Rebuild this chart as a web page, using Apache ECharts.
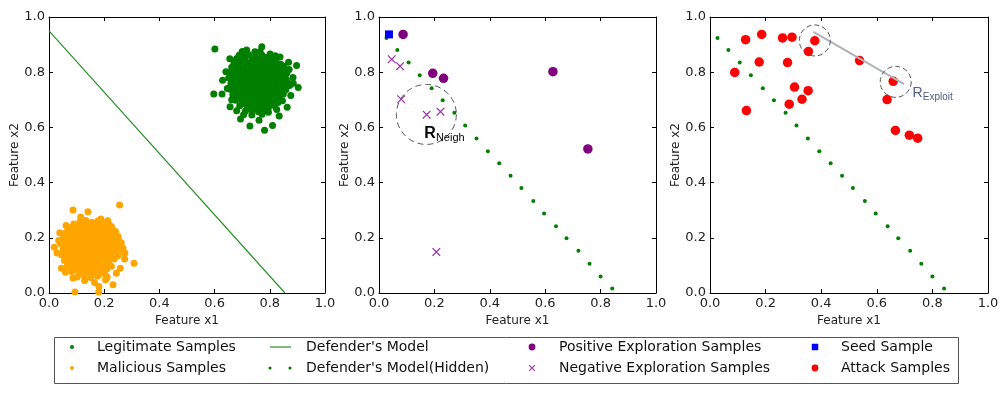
<!DOCTYPE html>
<html>
<head>
<meta charset="utf-8">
<script src="https://cdn.jsdelivr.net/npm/echarts@6/dist/echarts.min.js"></script>
<style>html,body{margin:0;padding:0;background:#fff;}#chart{width:1008px;height:394px;}</style>
</head>
<body>
<div id="chart"></div>
<script>
// ---------------- DATA ----------------
const axisTicks = [0.0, 0.2, 0.4, 0.6, 0.8, 1.0];
const xAxisTitle = 'Feature x1';
const yAxisTitle = 'Feature x2';

// Panel 1
const legitPoints = [
  [0.601,0.884],[0.597,0.721],[0.771,0.892],[0.903,0.745],[0.781,0.590],[0.810,0.607],[0.694,0.630],[0.863,0.673],[0.897,0.824],[0.629,0.771],
  [0.656,0.675],[0.728,0.605],[0.855,0.807],[0.837,0.855],[0.801,0.866],[0.655,0.849],[0.716,0.880],[0.884,0.781],[0.641,0.802],[0.646,0.741],
  [0.876,0.716],[0.746,0.874],[0.761,0.626],[0.834,0.641],[0.868,0.836],[0.689,0.861],[0.627,0.721],[0.705,0.646],[0.872,0.752],[0.662,0.700],
  [0.702,0.858],[0.723,0.864],[0.748,0.856],[0.772,0.861],[0.791,0.853],
  [0.671,0.838],[0.692,0.843],[0.714,0.836],[0.737,0.845],[0.759,0.839],[0.781,0.844],[0.803,0.836],[0.822,0.842],
  [0.662,0.818],[0.681,0.823],[0.703,0.816],[0.726,0.824],[0.744,0.817],[0.766,0.822],[0.787,0.815],[0.806,0.823],[0.829,0.818],[0.851,0.822],
  [0.655,0.798],[0.676,0.803],[0.696,0.796],[0.717,0.802],[0.741,0.797],[0.762,0.804],[0.779,0.798],[0.801,0.801],[0.821,0.795],[0.842,0.803],[0.862,0.797],
  [0.651,0.779],[0.671,0.783],[0.691,0.776],[0.712,0.782],[0.731,0.777],[0.754,0.783],[0.776,0.778],[0.796,0.784],[0.816,0.776],[0.836,0.781],[0.857,0.778],
  [0.659,0.758],[0.682,0.763],[0.701,0.757],[0.722,0.762],[0.744,0.756],[0.766,0.761],[0.786,0.758],[0.806,0.763],[0.826,0.756],[0.846,0.762],[0.869,0.759],
  [0.656,0.738],[0.676,0.742],[0.697,0.737],[0.716,0.743],[0.736,0.736],[0.757,0.741],[0.779,0.738],[0.799,0.744],[0.819,0.737],[0.841,0.742],[0.858,0.736],
  [0.666,0.718],[0.686,0.723],[0.706,0.716],[0.726,0.722],[0.749,0.717],[0.771,0.721],[0.791,0.716],[0.811,0.723],[0.831,0.718],[0.849,0.721],
  [0.676,0.698],[0.699,0.703],[0.721,0.697],[0.741,0.702],[0.762,0.696],[0.781,0.703],[0.801,0.698],[0.824,0.702],[0.846,0.697],
  [0.691,0.678],[0.714,0.683],[0.736,0.677],[0.756,0.682],[0.776,0.676],[0.796,0.683],[0.816,0.679],
  [0.712,0.659],[0.736,0.663],[0.759,0.657],[0.784,0.662],
  [0.735,0.645],[0.772,0.648],[0.795,0.655],[0.825,0.665],[0.680,0.660],[0.700,0.875],[0.765,0.875],[0.820,0.860],[0.870,0.810],[0.885,0.760],
  [0.680,0.850],[0.710,0.847],[0.735,0.852],[0.760,0.848],[0.785,0.851],[0.810,0.847],
  [0.670,0.830],[0.690,0.832],[0.715,0.828],[0.735,0.831],[0.755,0.829],[0.775,0.832],[0.795,0.828],[0.815,0.831],[0.840,0.829],
  [0.665,0.810],[0.685,0.812],[0.705,0.808],[0.730,0.811],[0.750,0.809],[0.770,0.812],[0.790,0.808],[0.810,0.811],[0.830,0.809],[0.850,0.812],
  [0.660,0.790],[0.680,0.792],[0.700,0.788],[0.725,0.791],[0.745,0.789],[0.765,0.792],[0.785,0.788],[0.805,0.791],[0.825,0.789],[0.850,0.792],
  [0.665,0.770],[0.690,0.772],[0.710,0.768],[0.735,0.771],[0.755,0.769],[0.775,0.772],[0.795,0.768],[0.815,0.771],[0.835,0.769],[0.860,0.772],
  [0.670,0.750],[0.690,0.752],[0.710,0.748],[0.730,0.751],[0.755,0.749],[0.775,0.752],[0.795,0.748],[0.815,0.751],[0.835,0.749],[0.855,0.752],
  [0.675,0.730],[0.695,0.732],[0.715,0.728],[0.735,0.731],[0.760,0.729],[0.780,0.732],[0.800,0.728],[0.820,0.731],[0.840,0.729],
  [0.685,0.710],[0.710,0.712],[0.730,0.708],[0.750,0.711],[0.770,0.709],[0.790,0.712],[0.810,0.708],[0.835,0.711],
  [0.700,0.690],[0.725,0.692],[0.745,0.688],[0.765,0.691],[0.785,0.689],[0.805,0.692],[0.830,0.690],
  [0.720,0.670],[0.745,0.672],[0.770,0.668],[0.795,0.671]
];
const maliciousPoints = [
  [0.256,0.319],[0.087,0.301],[0.141,0.294],[0.308,0.108],[0.019,0.166],[0.094,0.004],[0.180,0.004],[0.181,0.024],[0.232,0.030],[0.274,0.123],
  [0.268,0.163],[0.039,0.218],[0.029,0.145],[0.045,0.090],[0.087,0.054],[0.129,0.045],[0.188,0.268],[0.220,0.241],[0.250,0.205],[0.244,0.072],
  [0.062,0.245],[0.115,0.275],[0.213,0.262],[0.262,0.182],[0.275,0.145],[0.060,0.075],[0.165,0.038],[0.205,0.048],[0.035,0.190],[0.258,0.090],
  [0.112,0.258],[0.133,0.263],[0.156,0.256],[0.178,0.262],[0.199,0.255],
  [0.082,0.238],[0.101,0.243],[0.122,0.236],[0.141,0.242],[0.164,0.237],[0.186,0.243],[0.205,0.236],[0.226,0.241],
  [0.061,0.218],[0.081,0.223],[0.102,0.216],[0.121,0.222],[0.141,0.217],[0.162,0.223],[0.181,0.216],[0.201,0.221],[0.222,0.217],[0.241,0.223],
  [0.052,0.198],[0.071,0.203],[0.092,0.196],[0.111,0.202],[0.131,0.197],[0.151,0.203],[0.172,0.196],[0.191,0.202],[0.211,0.197],[0.232,0.203],[0.251,0.196],
  [0.042,0.178],[0.061,0.183],[0.082,0.176],[0.101,0.182],[0.121,0.177],[0.146,0.183],[0.166,0.176],[0.186,0.182],[0.206,0.177],[0.226,0.183],[0.246,0.176],
  [0.051,0.158],[0.071,0.163],[0.091,0.156],[0.111,0.162],[0.131,0.157],[0.151,0.163],[0.171,0.156],[0.191,0.162],[0.211,0.157],[0.231,0.163],[0.259,0.158],
  [0.046,0.138],[0.066,0.143],[0.086,0.136],[0.106,0.142],[0.126,0.137],[0.146,0.143],[0.166,0.136],[0.186,0.142],[0.206,0.137],[0.226,0.143],[0.251,0.136],
  [0.056,0.118],[0.076,0.123],[0.096,0.116],[0.116,0.122],[0.136,0.117],[0.156,0.123],[0.176,0.116],[0.196,0.122],[0.216,0.117],[0.236,0.123],
  [0.066,0.098],[0.086,0.103],[0.106,0.096],[0.126,0.102],[0.146,0.097],[0.166,0.103],[0.186,0.096],[0.206,0.102],[0.226,0.097],
  [0.081,0.078],[0.101,0.083],[0.121,0.076],[0.141,0.082],[0.161,0.077],[0.181,0.083],[0.201,0.076],
  [0.102,0.058],[0.126,0.063],[0.151,0.056],[0.176,0.062],[0.211,0.058],
  [0.090,0.250],[0.120,0.252],[0.145,0.248],[0.170,0.251],[0.190,0.249],[0.215,0.252],
  [0.070,0.230],[0.090,0.232],[0.110,0.228],[0.130,0.231],[0.150,0.229],[0.170,0.232],[0.190,0.228],[0.210,0.231],[0.230,0.229],
  [0.060,0.210],[0.080,0.212],[0.100,0.208],[0.120,0.211],[0.140,0.209],[0.160,0.212],[0.180,0.208],[0.200,0.211],[0.220,0.209],[0.240,0.212],
  [0.050,0.190],[0.070,0.192],[0.090,0.188],[0.110,0.191],[0.130,0.189],[0.155,0.192],[0.175,0.188],[0.195,0.191],[0.215,0.189],[0.235,0.192],
  [0.055,0.170],[0.075,0.172],[0.095,0.168],[0.115,0.171],[0.135,0.169],[0.155,0.172],[0.180,0.168],[0.200,0.171],[0.220,0.169],[0.240,0.172],
  [0.060,0.150],[0.080,0.152],[0.100,0.148],[0.120,0.151],[0.140,0.149],[0.160,0.152],[0.180,0.148],[0.200,0.151],[0.220,0.149],[0.240,0.152],
  [0.065,0.130],[0.085,0.132],[0.105,0.128],[0.125,0.131],[0.145,0.129],[0.165,0.132],[0.185,0.128],[0.205,0.131],[0.225,0.129],
  [0.075,0.110],[0.095,0.112],[0.115,0.108],[0.135,0.111],[0.155,0.109],[0.175,0.112],[0.195,0.108],[0.215,0.111],
  [0.090,0.090],[0.110,0.092],[0.130,0.088],[0.150,0.091],[0.170,0.089],[0.190,0.092],[0.210,0.088],
  [0.110,0.070],[0.140,0.072],[0.165,0.068],[0.190,0.071]
];
const defenderLine = [[0.0, 0.95], [0.855, 0.0]];

// Panels 2 & 3: hidden model
const hiddenX = [0.027,0.066,0.107,0.147,0.190,0.230,0.272,0.311,0.352,0.393,0.434,0.475,0.514,0.557,0.596,0.639,0.677,0.720,0.760,0.800,0.842];
const hiddenY = [0.924,0.880,0.835,0.789,0.742,0.698,0.653,0.607,0.560,0.514,0.470,0.425,0.380,0.333,0.288,0.242,0.198,0.153,0.106,0.060,0.016];

// Panel 2
const seedPoint = [[0.036, 0.937]];
const positivePoints = [[0.087,0.937],[0.194,0.796],[0.233,0.778],[0.628,0.802],[0.754,0.522]];
const negativePoints = [[0.046,0.847],[0.076,0.822],[0.080,0.702],[0.172,0.646],[0.222,0.657],[0.207,0.149]];
const neighCircle = [[0.171, 0.647]];
const neighLabelAt = [[0.162, 0.572]];

// Panel 3
const attackPoints = [
  [0.128,0.918],[0.186,0.937],[0.261,0.924],[0.295,0.927],[0.377,0.914],[0.354,0.875],[0.089,0.799],[0.177,0.837],
  [0.279,0.835],[0.538,0.842],[0.659,0.767],[0.304,0.746],[0.353,0.733],[0.331,0.702],[0.285,0.684],[0.131,0.661],
  [0.637,0.701],[0.667,0.589],[0.717,0.572],[0.747,0.561]
];
const exploitLine = [[0.372, 0.946], [0.698, 0.757]];
const exploitCircles = [[0.377, 0.915], [0.668, 0.765]];
const exploitLabelAt = [[0.727, 0.717]];

const legendCol1 = ['Legitimate Samples', 'Malicious Samples'];
const legendCol2 = ["Defender's Model", "Defender's Model(Hidden)"];
const legendCol3 = ['Positive Exploration Samples', 'Negative Exploration Samples'];
const legendCol4 = ['Seed Sample', 'Attack Samples'];

// ---------------- STYLE ----------------
const GREEN = '#007f00', ORANGE = '#ffa500', PURPLE = '#800080', XPURPLE = '#9b2fae', RED = '#ff0000', BLUE = '#0000ff';
const FONT = 'DejaVu Sans';
const grids = [
  { left: 49, top: 17, width: 276, height: 276 },
  { left: 379, top: 17, width: 277, height: 276 },
  { left: 710, top: 17, width: 278, height: 276 }
];

function xPath(cx, cy, s, t) {
  const h = s / 2, d = t / Math.SQRT2;
  const pts = [[-h,-h+d],[-h+d,-h],[0,-d],[h-d,-h],[h,-h+d],[d,0],[h,h-d],[h-d,h],[0,d],[-h+d,h],[-h,h-d],[-d,0]];
  return 'M' + pts.map(p => (cx + p[0]).toFixed(2) + ',' + (cy + p[1]).toFixed(2)).join(' L') + ' Z';
}
function circ(cx, cy, r) {
  return 'M' + (cx - r) + ',' + cy + ' A' + r + ',' + r + ' 0 1,0 ' + (cx + r) + ',' + cy + ' A' + r + ',' + r + ' 0 1,0 ' + (cx - r) + ',' + cy + ' Z';
}
const PAD = 'path://M0,0 M40,14 ';
const icons = {
  'Legitimate Samples': PAD + circ(20, 7, 2),
  'Malicious Samples': PAD + circ(20, 7, 2),
  "Defender's Model": PAD + 'M9,6.4 L30,6.4 L30,7.6 L9,7.6 Z',
  "Defender's Model(Hidden)": PAD + circ(9, 7, 1.6) + ' ' + circ(29, 7, 1.6),
  'Positive Exploration Samples': PAD + circ(18, 7, 3.4),
  'Negative Exploration Samples': PAD + xPath(18, 7, 6.5, 1.1),
  'Seed Sample': PAD + 'M15.75,3.75 L22.25,3.75 L22.25,10.25 L15.75,10.25 Z',
  'Attack Samples': PAD + circ(19, 7, 3.4)
};

const xAxes = [], yAxes = [];
grids.forEach((g, i) => {
  const common = {
    type: 'value', min: 0, max: 1, interval: 0.2, gridIndex: i,
    axisLine: { show: true, onZero: false, lineStyle: { color: '#000', width: 1 } },
    axisTick: { show: true, inside: true, length: 4, lineStyle: { color: '#000', width: 1 } },
    splitLine: { show: false }
  };
  xAxes.push(Object.assign({}, common, {
    position: 'bottom',
    axisLabel: { show: true, margin: 4, color: '#222', fontSize: 13, fontFamily: FONT, formatter: v => v.toFixed(1) },
    name: xAxisTitle, nameLocation: 'middle', nameGap: 18,
    nameTextStyle: { color: '#222', fontSize: 12, fontFamily: FONT }
  }));
  xAxes.push(Object.assign({}, common, { position: 'top', axisLabel: { show: false } }));
  yAxes.push(Object.assign({}, common, {
    position: 'left',
    axisLabel: { show: true, margin: 4, color: '#222', fontSize: 13, fontFamily: FONT, formatter: v => v.toFixed(1) },
    name: yAxisTitle, nameLocation: 'middle', nameGap: 27,
    nameTextStyle: { color: '#222', fontSize: 12, fontFamily: FONT }
  }));
  yAxes.push(Object.assign({}, common, { position: 'right', axisLabel: { show: false } }));
});

const hiddenPoints = hiddenX.map((x, i) => [x, hiddenY[i]]);
const X_SYMBOL = 'path://' + xPath(5, 5, 10, 1.4);
const CLEAR = 'rgba(0,0,0,0)';

function sc(name, grid, data, color, size, extra) {
  return Object.assign({
    name: name, type: 'scatter', xAxisIndex: grid * 2, yAxisIndex: grid * 2,
    data: data, symbol: 'circle', symbolSize: size, silent: true, animation: false,
    itemStyle: { color: color, opacity: 1 }
  }, extra || {});
}

const series = [
  sc('Legitimate Samples', 0, legitPoints, GREEN, 7),
  sc('Malicious Samples', 0, maliciousPoints, ORANGE, 7),
  {
    name: "Defender's Model", type: 'line', xAxisIndex: 0, yAxisIndex: 0, data: defenderLine,
    showSymbol: false, symbol: 'none', silent: true, animation: false,
    itemStyle: { color: '#2a922a' }, lineStyle: { color: '#2a922a', width: 1.2 }
  },
  sc("Defender's Model(Hidden)", 1, hiddenPoints, GREEN, 4),
  sc('Seed Sample', 1, seedPoint, BLUE, 8, { symbol: 'rect' }),
  sc('Positive Exploration Samples', 1, positivePoints, PURPLE, 9.5),
  sc('Negative Exploration Samples', 1, negativePoints, XPURPLE, 8.5, { symbol: X_SYMBOL }),
  sc('', 1, neighCircle, CLEAR, 60, {
    itemStyle: { color: CLEAR, borderColor: '#555', borderWidth: 1, borderType: [6, 4], opacity: 1 }, z: 5
  }),
  sc('', 1, neighLabelAt, CLEAR, 1, {
    z: 6,
    label: {
      show: true, position: 'right', distance: 0,
      formatter: '{r|R}{s|Neigh}',
      rich: {
        r: { fontSize: 16, fontWeight: 'bold', fontFamily: 'Liberation Sans', color: '#000', verticalAlign: 'bottom', lineHeight: 16, padding: [0, 0, 2, 0] },
        s: { fontSize: 11, fontFamily: 'Liberation Sans', color: '#000', verticalAlign: 'bottom', lineHeight: 12 }
      }
    }
  }),
  sc("Defender's Model(Hidden)", 2, hiddenPoints, GREEN, 4),
  {
    name: '', type: 'line', xAxisIndex: 4, yAxisIndex: 4, data: exploitLine, showSymbol: false, symbol: 'none',
    silent: true, animation: false, z: 4, lineStyle: { color: '#aeb3bb', width: 2 }
  },
  sc('Attack Samples', 2, attackPoints, RED, 9.5),
  sc('', 2, exploitCircles, CLEAR, 31, {
    itemStyle: { color: CLEAR, borderColor: '#555', borderWidth: 1, borderType: [5, 3], opacity: 1 }, z: 5
  }),
  sc('', 2, exploitLabelAt, CLEAR, 1, {
    z: 6,
    label: {
      show: true, position: 'right', distance: 0,
      formatter: '{r|R}{s|Exploit}',
      rich: {
        r: { fontSize: 14, fontFamily: 'Liberation Sans', color: '#4f5f7f', verticalAlign: 'bottom', lineHeight: 14, padding: [0, 0, 2, 0] },
        s: { fontSize: 10, fontFamily: 'Liberation Sans', color: '#4f5f7f', verticalAlign: 'bottom', lineHeight: 10 }
      }
    }
  })
];

function legendCol(names, left) {
  return {
    orient: 'vertical', left: left, top: 340, itemWidth: 40, itemHeight: 14, itemGap: 7,
    selectedMode: false, padding: 0,
    textStyle: { fontSize: 14, fontFamily: FONT, color: '#111' },
    data: names.map(n => ({ name: n, icon: icons[n] }))
  };
}

const option = {
  animation: false,
  backgroundColor: '#fff',
  grid: grids,
  xAxis: xAxes,
  yAxis: yAxes,
  legend: [legendCol(legendCol1, 52), legendCol(legendCol2, 261), legendCol(legendCol3, 514), legendCol(legendCol4, 796)],
  graphic: [{
    type: 'rect', left: 52, top: 335, z: -1,
    shape: { width: 904, height: 46 },
    style: { fill: 'none', stroke: '#555', lineWidth: 1 }
  }],
  series: series
};

const chart = echarts.init(document.getElementById('chart'), null, { renderer: 'canvas' });
chart.setOption(option);
</script>
</body>
</html>
